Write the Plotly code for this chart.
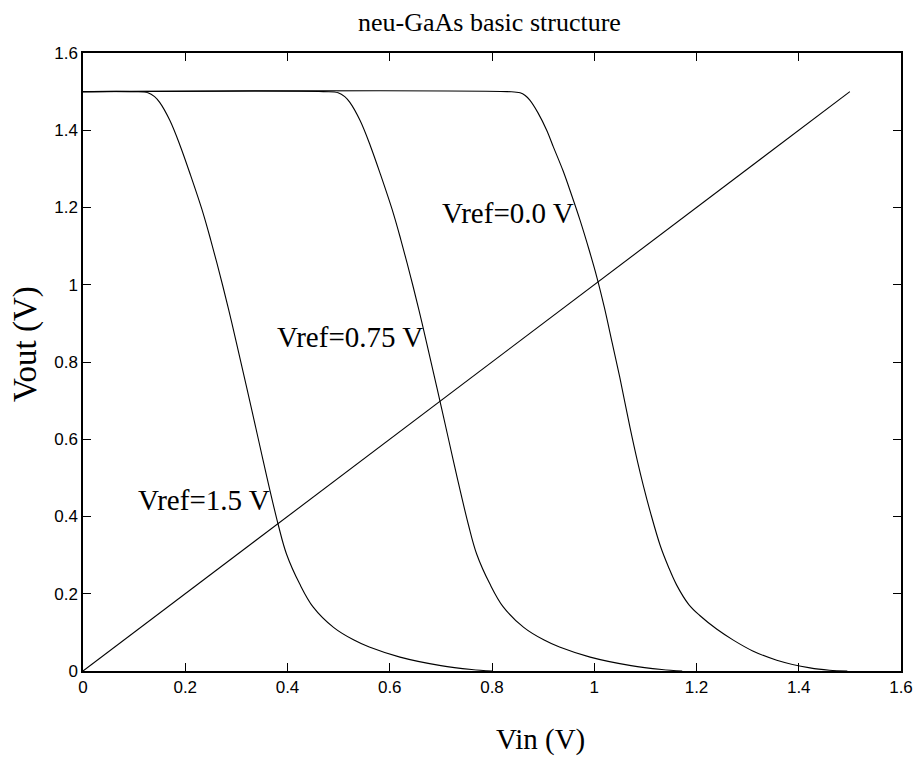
import plotly.graph_objects as go

# Vref = 1.5 V
x_15 = [0, 0.10, 0.127, 0.14, 0.15, 0.17, 0.19, 0.21, 0.235, 0.25, 0.268, 0.285, 0.30, 0.32, 0.343, 0.36,
        0.382, 0.398, 0.424, 0.45, 0.49, 0.53, 0.56, 0.62, 0.70, 0.76, 0.80]
y_15 = [1.5, 1.5, 1.497, 1.487, 1.472, 1.425, 1.36, 1.285, 1.185, 1.115, 1.025, 0.935, 0.85, 0.735, 0.60, 0.50,
        0.378, 0.303, 0.225, 0.166, 0.113, 0.080, 0.062, 0.036, 0.014, 0.004, 0.0]

# Vref = 0.75 V
x_075 = [0, 0.47, 0.499, 0.512, 0.522, 0.542, 0.562, 0.582, 0.607, 0.622, 0.640, 0.657, 0.672, 0.692, 0.715, 0.732,
         0.754, 0.770, 0.796, 0.822, 0.862, 0.902, 0.932, 0.992, 1.072, 1.132, 1.172]
y_075 = [1.5, 1.5, 1.497, 1.487, 1.472, 1.425, 1.36, 1.285, 1.185, 1.115, 1.025, 0.935, 0.85, 0.735, 0.60, 0.50,
         0.378, 0.303, 0.225, 0.166, 0.113, 0.080, 0.062, 0.036, 0.014, 0.004, 0.0]

# Vref = 0.0 V
x_00 = [0, 0.83, 0.855, 0.865, 0.874, 0.89, 0.907, 0.92, 0.939, 0.955, 0.972, 0.99, 1.005, 1.02, 1.035, 1.05,
        1.07, 1.085, 1.096, 1.11, 1.129, 1.145, 1.161, 1.185, 1.207, 1.24, 1.272, 1.31, 1.357, 1.422, 1.46, 1.495]
y_00 = [1.5, 1.5, 1.497, 1.490, 1.478, 1.445, 1.40, 1.357, 1.295, 1.235, 1.168, 1.09, 1.02, 0.94, 0.85, 0.76,
        0.63, 0.54, 0.48, 0.41, 0.325, 0.27, 0.223, 0.172, 0.143, 0.108, 0.080, 0.052, 0.028, 0.008, 0.002, 0.0]

# Vout = Vin reference line
x_diag = [0, 1.5]
y_diag = [0, 1.5]

labels = ["Vref=0.0 V", "Vref=0.75 V", "Vref=1.5 V"]
label_x = [0.831, 0.522, 0.237]
label_y = [1.186, 0.865, 0.443]

x_ticks = [0, 0.2, 0.4, 0.6, 0.8, 1, 1.2, 1.4, 1.6]
x_tick_text = ["0", "0.2", "0.4", "0.6", "0.8", "1", "1.2", "1.4", "1.6"]
y_ticks = [0, 0.2, 0.4, 0.6, 0.8, 1, 1.2, 1.4, 1.6]
y_tick_text = ["0", "0.2", "0.4", "0.6", "0.8", "1", "1.2", "1.4", "1.6"]

fig = go.Figure()
line = dict(color="black", width=1.1, shape="spline", smoothing=1.0)
for xs, ys, name in [(x_15, y_15, "Vref=1.5 V"), (x_075, y_075, "Vref=0.75 V"), (x_00, y_00, "Vref=0.0 V")]:
    fig.add_trace(go.Scatter(x=xs, y=ys, mode="lines", line=line, name=name, showlegend=False))
fig.add_trace(go.Scatter(x=x_diag, y=y_diag, mode="lines", line=dict(color="black", width=1.1),
                         name="Vout=Vin", showlegend=False))

serif = "Liberation Serif"
for t, lx, ly in zip(labels, label_x, label_y):
    fig.add_annotation(x=lx, y=ly, text=t, showarrow=False,
                       font=dict(family=serif, size=29, color="black"))

# axis titles
fig.add_annotation(xref="paper", yref="paper", x=0.5587, y=0, yshift=-68, yanchor="middle",
                   text="Vin (V)", showarrow=False, font=dict(family=serif, size=29, color="black"))
fig.add_annotation(xref="paper", yref="paper", x=0, xshift=-58, y=0.529, xanchor="center",
                   text="Vout (V)", textangle=-90, showarrow=False,
                   font=dict(family=serif, size=33, color="black"))

axis_common = dict(
    showgrid=False, zeroline=False, showline=True, linecolor="black", linewidth=1.5,
    mirror="allticks", ticks="inside", ticklen=8, tickwidth=1.2, tickcolor="black",
    tickfont=dict(family="Liberation Sans", size=17, color="black"), automargin=False,
)
fig.update_xaxes(range=[0, 1.6], tickvals=x_ticks, ticktext=x_tick_text, **axis_common)
fig.update_yaxes(range=[0, 1.6], tickvals=y_ticks, ticktext=y_tick_text, **axis_common)

fig.update_layout(
    width=914, height=757,
    margin=dict(l=83, r=13, t=53, b=86),
    paper_bgcolor="white", plot_bgcolor="white",
    title=dict(text="neu-GaAs basic structure", x=0.5355, xanchor="center", y=0.971, yanchor="middle",
               font=dict(family=serif, size=26, color="black")),
)

fig.write_html("out.html")
